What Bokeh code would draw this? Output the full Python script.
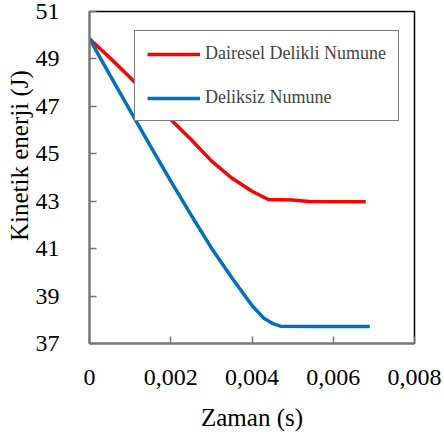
from bokeh.plotting import figure
from bokeh.models import Range1d, FixedTicker, CustomJSTickFormatter, Legend, LegendItem
from bokeh.embed import file_html
from bokeh.resources import INLINE

# Data
red_x = [0, 0.0005, 0.001, 0.0015, 0.002, 0.0025, 0.003, 0.0035, 0.004, 0.0044, 0.0050, 0.0054, 0.0068]
red_y = [49.85, 49.05, 48.22, 47.35, 46.45, 45.60, 44.70, 43.98, 43.42, 43.07, 43.05, 42.99, 42.98]
blue_x = [0, 0.0005, 0.001, 0.0015, 0.002, 0.0025, 0.003, 0.0035, 0.004, 0.0043, 0.0045, 0.0047, 0.0055, 0.0069]
blue_y = [49.85, 48.33, 46.82, 45.32, 43.85, 42.42, 41.03, 39.78, 38.60, 38.05, 37.85, 37.73, 37.72, 37.72]
x_ticks = [0, 0.002, 0.004, 0.006, 0.008]
y_ticks = [37, 39, 41, 43, 45, 47, 49, 51]
red_label = "Dairesel Delikli Numune"
blue_label = "Deliksiz Numune"
x_title = "Zaman (s)"
y_title = "Kinetik enerji (J)"

FONT = "'Liberation Serif', 'Times New Roman', serif"

p = figure(width=442, height=434, frame_width=325, frame_height=332,
           output_backend="svg", toolbar_location=None,
           x_range=Range1d(0, 0.008), y_range=Range1d(37, 51),
           min_border_left=89, min_border_right=28, min_border_top=11, min_border_bottom=91)
p.grid.visible = False
p.background_fill_color = "white"
p.outline_line_color = "black"
p.outline_line_width = 1.5

r1 = p.line(red_x, red_y, line_color="#FF0000", line_width=3.5)
r2 = p.line(blue_x, blue_y, line_color="#0070C0", line_width=3.5)

p.xaxis.ticker = FixedTicker(ticks=x_ticks)
p.yaxis.ticker = FixedTicker(ticks=y_ticks)
p.xaxis.formatter = CustomJSTickFormatter(code="return tick == 0 ? '0' : tick.toFixed(3).replace('.', ',');")
p.yaxis.formatter = CustomJSTickFormatter(code="return tick.toFixed(0);")

for ax in (p.xaxis, p.yaxis):
    ax.axis_line_color = "#777777"
    ax.axis_line_width = 2
    ax.major_tick_line_color = "#777777"
    ax.major_tick_line_width = 1.5
    ax.major_tick_in = 7
    ax.major_tick_out = 0
    ax.minor_tick_line_color = None
    ax.major_label_text_font = FONT
    ax.major_label_text_font_size = "24px"
    ax.major_label_text_color = "black"
    ax.axis_label_text_font = FONT
    ax.axis_label_text_font_size = "25px"
    ax.axis_label_text_font_style = "normal"
    ax.axis_label_text_color = "black"

p.xaxis.major_label_standoff = 26
p.yaxis.major_label_standoff = 30
p.xaxis.axis_label = x_title
p.xaxis.axis_label_standoff = 16
p.yaxis.axis_label = "\u00a0" * 7 + y_title
p.yaxis.axis_label_standoff = 0

legend = Legend(items=[LegendItem(label=red_label, renderers=[r1]),
                       LegendItem(label=blue_label, renderers=[r2])],
                location=(45, 222))
legend.margin = 0
legend.padding = 12
legend.spacing = 23
legend.glyph_width = 53
legend.glyph_height = 20
legend.label_standoff = 5
legend.label_text_font = FONT
legend.label_text_font_size = "18px"
legend.border_line_color = "black"
legend.border_line_width = 1
legend.background_fill_alpha = 1
p.add_layout(legend, "center")

open("out.html", "w").write(file_html(p, INLINE))
